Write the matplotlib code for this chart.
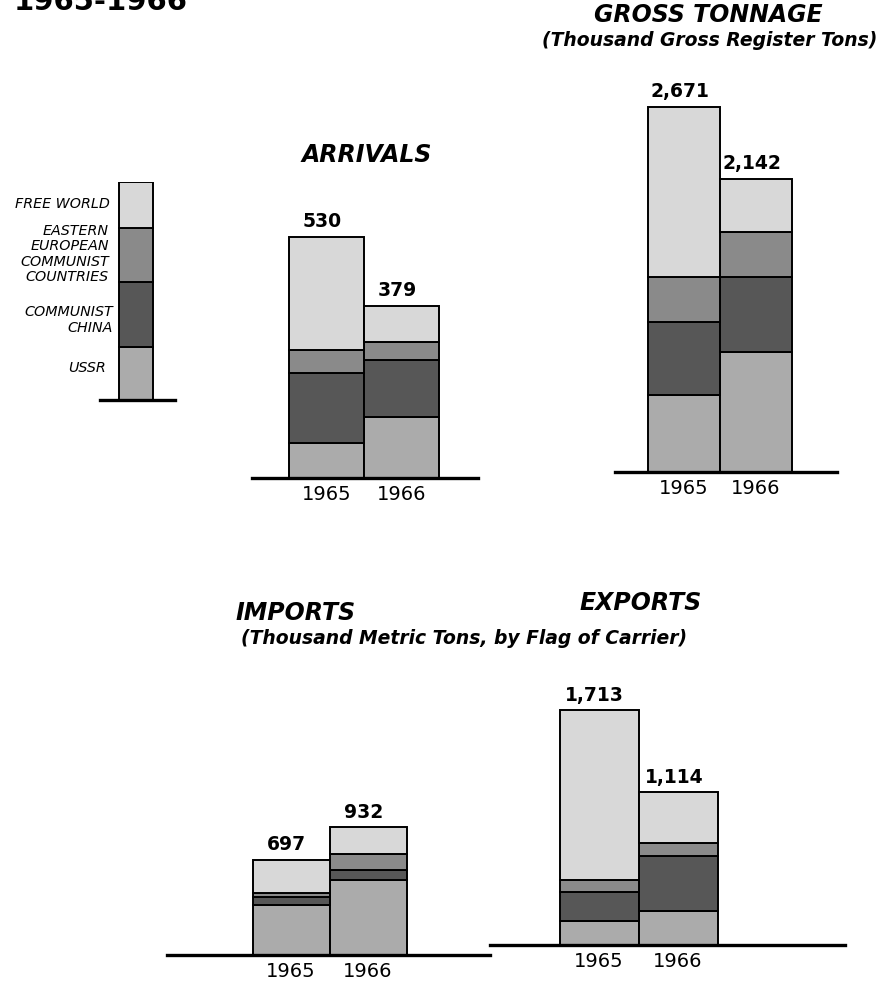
import numpy as np
import matplotlib
matplotlib.use("Agg")
import matplotlib.pyplot as plt

# flag of carrier, stacked bottom -> top
FLAGS = ["USSR", "Communist China", "Eastern European Communist Countries", "Free World"]
YEARS = ["1965", "1966"]

# ship arrivals (number)
arrivals_ussr = [78, 134]
arrivals_china = [152, 125]
arrivals_eeur = [51, 39]
arrivals_free = [249, 81]
arrivals_total = [530, 379]

# gross tonnage (thousand GRT)
tonnage_ussr = [564, 880]
tonnage_china = [534, 550]
tonnage_eeur = [329, 323]
tonnage_free = [1244, 389]
tonnage_total = [2671, 2142]

# imports (thousand metric tons)
imports_ussr = [363, 548]
imports_china = [58, 74]
imports_eeur = [29, 118]
imports_free = [247, 192]
imports_total = [697, 932]

# exports (thousand metric tons)
exports_ussr = [174, 247]
exports_china = [211, 404]
exports_eeur = [87, 97]
exports_free = [1241, 366]
exports_total = [1713, 1114]

COLORS = ["#ababab", "#575757", "#8a8a8a", "#d8d8d8"]

W, H = 891, 983
fig = plt.figure(figsize=(W / 100, H / 100), dpi=100)


def ftext(x, y, s, **kw):
    # place text by pixel position of the page
    kw.setdefault("ha", "center")
    kw.setdefault("va", "center")
    fig.text(x / W, 1 - y / H, s, **kw)


def panel(x0, x1, base, top, px_per_unit):
    ax = fig.add_axes([x0 / W, 1 - base / H, (x1 - x0) / W, (base - top) / H])
    ax.set_xlim(x0, x1)
    ax.set_ylim(0, (base - top) / px_per_unit)
    for s in ("left", "right", "top"):
        ax.spines[s].set_visible(False)
    ax.spines["bottom"].set_linewidth(2.4)
    ax.set_yticks([])
    ax.patch.set_alpha(0)
    return ax


def stack(ax, centers, width, layers, totals):
    bottom = np.zeros(len(centers))
    for vals, c in zip(layers, COLORS):
        ax.bar(centers, vals, width=width, bottom=bottom, color=c,
               edgecolor="black", linewidth=1.4, zorder=2)
        bottom += np.array(vals)
    for x, t in zip(centers, totals):
        ax.annotate(f"{t:,}", (x, t), xytext=(-3, 11), textcoords="offset points",
                    ha="center", va="center", fontsize=13.5, fontweight="bold")
    ax.set_xticks(centers, YEARS, fontsize=14)
    ax.tick_params(axis="x", length=0, pad=5)


# title, cut at the top of the page as in the source
ftext(14, 10, "1965-1966", ha="left", va="baseline", fontsize=21, fontweight="bold")

# legend column
lg = panel(100, 175, 400, 182, 1.0)
lg.set_xticks([])
lg_heights = [53, 65, 54, 46]
b = 0
for h, c in zip(lg_heights, COLORS):
    lg.bar([136], [h], width=34, bottom=b, color=c, edgecolor="black", linewidth=1.4)
    b += h
lab = dict(ha="right", fontsize=10.3, fontstyle="italic", linespacing=1.15)
ftext(110, 204, "FREE WORLD", **lab)
ftext(109, 254, "EASTERN\nEUROPEAN\nCOMMUNIST\nCOUNTRIES", multialignment="right", **lab)
ftext(113, 320, "COMMUNIST\nCHINA", multialignment="right", **lab)
ftext(106, 368, "USSR", **lab)

head = dict(fontsize=17, fontweight="bold", fontstyle="italic")
sub = dict(fontsize=13.5, fontweight="bold", fontstyle="italic")

# arrivals
ax = panel(252, 478, 478, 200, 0.455)
stack(ax, [326.5, 401.5], 75,
      [arrivals_ussr, arrivals_china, arrivals_eeur, arrivals_free], arrivals_total)
ftext(367, 155, "ARRIVALS", **head)

# gross tonnage
ax = panel(615, 837, 472, 60, 0.1367)
stack(ax, [684, 756], 72,
      [tonnage_ussr, tonnage_china, tonnage_eeur, tonnage_free], tonnage_total)
ftext(708, 15, "GROSS TONNAGE", **head)
ftext(710, 41, "(Thousand Gross Register Tons)", **sub)

# imports
ax = panel(167, 490, 955, 660, 0.137)
stack(ax, [291, 368], 77,
      [imports_ussr, imports_china, imports_eeur, imports_free], imports_total)
ftext(296, 613, "IMPORTS", **head)

# exports
ax = panel(490, 845, 945, 660, 0.137)
stack(ax, [599, 678], 79,
      [exports_ussr, exports_china, exports_eeur, exports_free], exports_total)
ftext(641, 603, "EXPORTS", **head)
ftext(464, 638, "(Thousand Metric Tons, by Flag of Carrier)", **sub)

fig.savefig("out.png", dpi=100)
